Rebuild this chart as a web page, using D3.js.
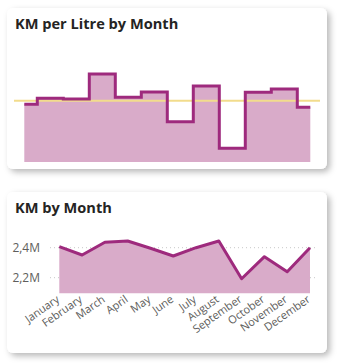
<!DOCTYPE html>
<html><head><meta charset="utf-8">
<script src="https://cdn.jsdelivr.net/npm/d3@7"></script>
<style>
html,body{margin:0;padding:0;background:#fff;}
svg{display:block;}
text{font-family:"Segoe UI","Open Sans",sans-serif;}
</style></head>
<body>
<svg id="c" width="341" height="363"></svg>
<script>
const months = ["January","February","March","April","May","June","July","August","September","October","November","December"];
const kmPerLitre = [11.54, 12.74, 12.6, 17.6, 12.94, 14.0, 8.06, 15.2, 2.74, 13.94, 14.6, 10.94];
const kmByMonth = [2406700, 2351300, 2436000, 2444700, 2396000, 2344700, 2400000, 2444700, 2193300, 2340000, 2240000, 2400000];
const kmTicks = [2200000, 2400000];
const titles = ["KM per Litre by Month", "KM by Month"];

const svg = d3.select("#c");
const defs = svg.append("defs");
const f = defs.append("filter").attr("id","sh").attr("x","-10%").attr("y","-10%").attr("width","130%").attr("height","130%");
f.append("feDropShadow").attr("dx",3).attr("dy",3).attr("stdDeviation",3).attr("flood-color","#000").attr("flood-opacity",0.28);

const LINE = "#9e2a7d", FILL = "#d9abc9", AVG = "#f2dc8c";

function card(y){
  svg.append("rect").attr("x",7).attr("y",y).attr("width",320).attr("height",161)
    .attr("rx",6).attr("fill","#fff").attr("filter","url(#sh)");
}
card(8); card(192);

// Titles
svg.append("text").attr("x",15).attr("y",29).attr("font-size",14.6).attr("font-weight",700).attr("fill","#252423").text(titles[0]);
svg.append("text").attr("x",15).attr("y",213).attr("font-size",14.6).attr("font-weight",700).attr("fill","#252423").text(titles[1]);

// Chart 1: step area
const x1 = d3.scalePoint().domain(months).range([24.3, 310.3]);
const y1 = d3.scaleLinear().domain([0, 24.4]).range([162, 40]);
const area1 = d3.area().x((d,i)=>x1(months[i])).y0(y1(0)).y1(d=>y1(d)).curve(d3.curveStep);
const line1 = d3.line().x((d,i)=>x1(months[i])).y(d=>y1(d)).curve(d3.curveStep);
svg.append("path").datum(kmPerLitre).attr("d",area1).attr("fill",FILL);
const avg = d3.mean(kmPerLitre);
svg.append("line").attr("x1",14).attr("x2",320).attr("y1",y1(avg)).attr("y2",y1(avg)).attr("stroke",AVG).attr("stroke-width",2);
svg.append("path").datum(kmPerLitre).attr("d",line1).attr("fill","none").attr("stroke",LINE).attr("stroke-width",3);

// Chart 2: area
const x2 = d3.scalePoint().domain(months).range([59.3, 310]);
const y2 = d3.scaleLinear().domain([2096000, 2500000]).range([293.3, 232.7]);
const g2 = svg.append("g");
kmTicks.forEach(t=>{
  g2.append("line").attr("x1",50).attr("x2",315).attr("y1",y2(t)).attr("y2",y2(t))
    .attr("stroke","#c8c8c8").attr("stroke-width",1).attr("stroke-dasharray","1,3");
  g2.append("text").attr("x",40).attr("y",y2(t)).attr("dy","0.35em").attr("text-anchor","end")
    .attr("font-size",12).attr("fill","#605e5c").text(d3.format(".1f")(t/1e6).replace(".",",")+"M");
});
const area2 = d3.area().x((d,i)=>x2(months[i])).y0(y2(2096000)).y1(d=>y2(d));
const line2 = d3.line().x((d,i)=>x2(months[i])).y(d=>y2(d));
g2.append("path").datum(kmByMonth).attr("d",area2).attr("fill",FILL);
g2.append("path").datum(kmByMonth).attr("d",line2).attr("fill","none").attr("stroke",LINE).attr("stroke-width",3).attr("stroke-linejoin","round");
months.forEach(m=>{
  g2.append("text").attr("transform",`translate(${x2(m)+1},${301}) rotate(-35)`)
    .attr("text-anchor","end").attr("font-size",11).attr("fill","#605e5c").text(m);
});
</script>
</body></html>
